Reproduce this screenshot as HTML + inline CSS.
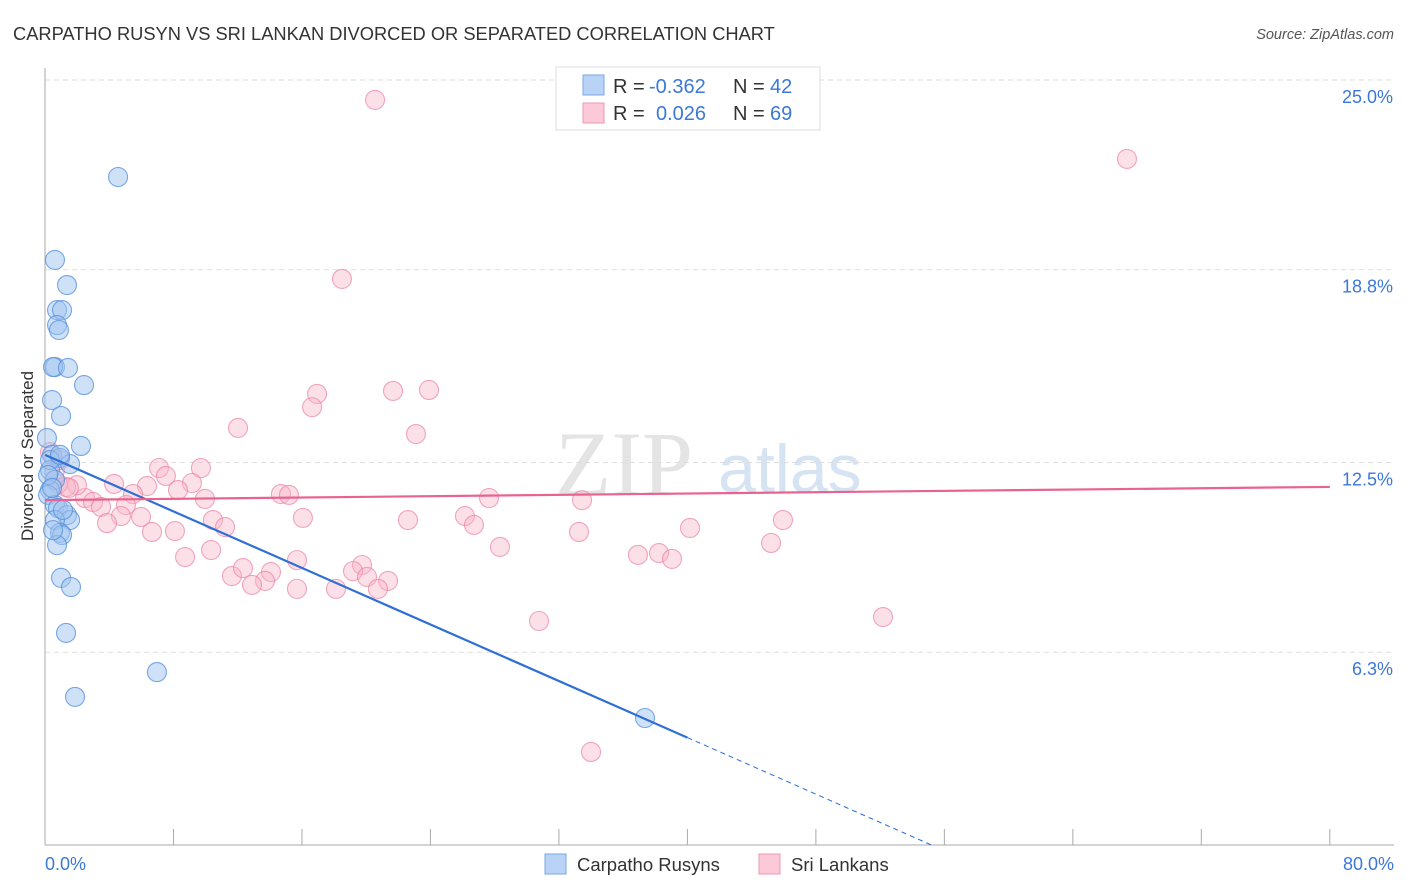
<!DOCTYPE html>
<html><head><meta charset="utf-8"><style>
body{margin:0;background:#fff;font-family:"Liberation Sans",sans-serif;}
#wrap{position:relative;width:1406px;height:892px;overflow:hidden}
</style></head><body>
<div id="wrap">
<svg id="svg" width="1406" height="892" xmlns="http://www.w3.org/2000/svg">
<text x="13" y="40" font-size="18.3" fill="#333">CARPATHO RUSYN VS SRI LANKAN DIVORCED OR SEPARATED CORRELATION CHART</text>
<text x="1394" y="39" font-size="14.5" fill="#555" font-style="italic" text-anchor="end">Source: ZipAtlas.com</text>
<text x="33" y="456" font-size="17" fill="#333" text-anchor="middle" transform="rotate(-90 33 456)">Divorced or Separated</text>
<text x="555" y="495" font-size="92" fill="#e4e4e4" font-family="Liberation Serif,serif">ZIP</text>
<text x="718" y="492" font-size="68" fill="#d6e3f3">atlas</text>
<g id="grid"></g><g id="axes"></g><g id="pts"></g><g id="lines"></g>
<g>
<rect x="556" y="67" width="264" height="63" fill="#fff" stroke="#ddd"/>
<rect x="583" y="75" width="21" height="20" fill="#b8d3f5" stroke="#7aa8e6"/>
<rect x="583" y="103" width="21" height="20" fill="#fbc9d8" stroke="#f097b5"/>
<text x="613" y="93" font-size="20" fill="#333">R =</text>
<text x="649" y="93" font-size="20" fill="#3b78d8">-0.362</text>
<text x="733" y="93" font-size="20" fill="#333">N =</text>
<text x="770" y="93" font-size="20" fill="#3b78d8">42</text>
<text x="613" y="120" font-size="20" fill="#333">R =</text>
<text x="656" y="120" font-size="20" fill="#3b78d8">0.026</text>
<text x="733" y="120" font-size="20" fill="#333">N =</text>
<text x="770" y="120" font-size="20" fill="#3b78d8">69</text>
</g>
<g>
<rect x="545" y="854" width="21" height="20" fill="#b8d3f5" stroke="#7aa8e6"/>
<text x="577" y="871" font-size="18.5" fill="#333">Carpatho Rusyns</text>
<rect x="759" y="854" width="21" height="20" fill="#fbc9d8" stroke="#f097b5"/>
<text x="791" y="871" font-size="18.5" fill="#333">Sri Lankans</text>
</g>
</svg>
</div>
<script>
const yTicks=[25.0,18.8,12.5,6.3];
const yTickLabels=["25.0%","18.8%","12.5%","6.3%"];
const xTickVals=[0,8,16,24,32,40,48,56,64,72,80];
const xEndLabels=["0.0%","80.0%"];
const blueX=[4.55,.62,1.37,.75,1.06,.75,.87,.62,.50,1.43,2.43,.44,1.00,2.24,.12,.44,.93,1.56,.31,.62,.31,.19,.62,.81,1.37,1.56,.62,.93,1.06,.75,1.00,1.62,1.31,6.97,1.87,37.36,.31,.19,.44,1.12,.50,.93];
const blueY=[21.83,19.12,18.30,17.48,17.48,16.99,16.83,15.62,15.62,15.59,15.03,14.54,14.02,13.04,13.30,12.75,12.65,12.45,12.25,11.93,11.60,11.44,11.11,11.01,10.78,10.62,10.62,10.20,10.13,9.80,8.73,8.43,6.93,5.65,4.84,4.15,12.58,12.09,11.67,10.95,10.29,12.75];
const pinkX=[20.55,67.37,18.49,16.94,16.63,21.67,23.91,12.02,23.10,7.10,9.71,7.53,9.15,6.35,4.30,8.28,14.69,15.19,9.96,27.65,33.44,5.48,2.49,2.99,3.49,5.04,1.99,1.31,.81,.62,.31,.93,1.49,4.73,3.86,5.98,10.46,11.21,16.06,22.60,26.15,26.71,40.16,45.95,6.66,8.09,33.25,28.33,45.21,10.34,8.72,36.92,38.23,39.04,15.69,11.64,12.33,14.07,13.70,12.89,19.74,19.18,20.05,21.36,15.69,18.12,20.73,30.76,52.18,34.00];
const pinkY=[24.35,22.42,18.50,14.74,14.31,14.84,14.87,13.63,13.43,12.32,12.32,12.06,11.83,11.73,11.80,11.60,11.47,11.44,11.31,11.34,11.27,11.47,11.34,11.21,11.05,11.11,11.76,11.70,11.80,12.25,12.84,12.58,11.67,10.75,10.52,10.72,10.62,10.39,10.69,10.62,10.75,10.46,10.36,10.62,10.23,10.26,10.23,9.74,9.87,9.64,9.41,9.48,9.54,9.35,9.31,8.79,9.05,8.92,8.63,8.50,9.15,8.95,8.76,8.63,8.37,8.37,8.37,7.32,7.45,3.04];
const blueFit=[12.75,-0.231];
const blueSolidEnd=40;
const pinkFit=[11.27,0.0054];

const X=v=>45+v*16.06, Y=v=>845-v*30.6;
const NS="http://www.w3.org/2000/svg";
function mk(t,a,p){const e=document.createElementNS(NS,t);for(const k in a)e.setAttribute(k,a[k]);p.appendChild(e);return e;}
const grid=document.getElementById('grid'),axes=document.getElementById('axes'),pts=document.getElementById('pts'),lines=document.getElementById('lines');
yTicks.forEach((v,i)=>{
 const l=mk('line',{x1:45,x2:1394,y1:Y(v),y2:Y(v),stroke:'#ddd','stroke-dasharray':'5,4'},grid);
 
 
 const t=mk('text',{x:1393,y:Y(v)+23,'font-size':18,fill:'#3b78d8','text-anchor':'end'},axes);
 t.textContent=yTickLabels[i];
 
 
});
const ya=mk('line',{x1:45,x2:45,y1:68,y2:845,stroke:'#aaa'},axes);


const xa=mk('line',{x1:45,x2:1394,y1:845,y2:845,stroke:'#aaa'},axes);


xTickVals.forEach(v=>{
 const t=mk('line',{x1:X(v),x2:X(v),y1:829,y2:845,stroke:'#aaa'},axes);
 
 
});
[[0,'start',45],[80,'end',1394]].forEach((a,i)=>{
 const t=mk('text',{x:a[2],y:870,'font-size':18,fill:'#3b78d8','text-anchor':a[1]},axes);
 t.textContent=xEndLabels[i];
 
 
});
function dots(xs,ys,fill,stroke,name){
 xs.forEach((x,i)=>{
  const c=mk('circle',{cx:X(x),cy:Y(ys[i]),r:9.5,fill:fill,stroke:stroke,'stroke-width':1.1},pts);
  
  
 });
}
dots(pinkX,pinkY,'rgba(248,180,200,0.42)','rgba(235,130,165,0.7)','srilankan-point');
dots(blueX,blueY,'rgba(160,196,240,0.5)','rgba(80,140,220,0.75)','carpatho-point');
const b0=mk('line',{x1:X(0),y1:Y(blueFit[0]),x2:X(blueSolidEnd),y2:Y(blueFit[0]+blueFit[1]*blueSolidEnd),stroke:'#2f6fd6','stroke-width':2.2},lines);


const xz=-blueFit[0]/blueFit[1];
const b1=mk('line',{x1:X(blueSolidEnd),y1:Y(blueFit[0]+blueFit[1]*blueSolidEnd),x2:X(xz),y2:Y(0),stroke:'#2f6fd6','stroke-width':1,'stroke-dasharray':'5,4'},lines);


const p0=mk('line',{x1:X(0),y1:Y(pinkFit[0]),x2:X(80),y2:Y(pinkFit[0]+pinkFit[1]*80),stroke:'#e8638f','stroke-width':2.2},lines);


</script>
</body></html>
